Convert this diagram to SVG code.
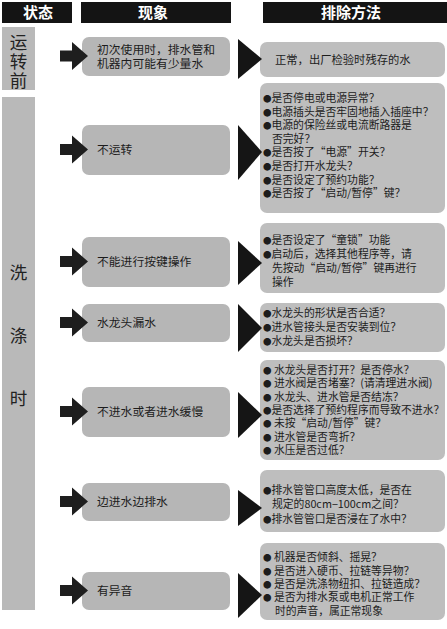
<svg xmlns="http://www.w3.org/2000/svg" width="447" height="629" viewBox="0 0 447 629">
<style>
.hdr{fill:#141414}
.hdrt{fill:#ffffff;font-family:"Noto Sans CJK SC","Noto Sans",sans-serif;font-size:15px;font-weight:bold;text-anchor:middle}
.st{fill:#b9b9b9}
.stt{fill:#222;font-family:"Noto Sans CJK SC",sans-serif;font-size:17.5px;text-anchor:middle}
.ph{fill:#b6b6b6}
.pht{fill:#1c1c1c;font-family:"Noto Sans CJK SC",sans-serif;font-size:11.8px}
.so{fill:#bebebe}
.sot{fill:#1c1c1c;font-family:"Noto Sans CJK SC",sans-serif;font-size:10.8px}
.b{font-size:8.5px}
.arr{fill:#1e1e1e}
.big{fill:#151515}
</style>
<rect width="447" height="629" fill="#ffffff"/>

<g id="headers">
<rect class="hdr" x="2" y="2" width="70" height="21"/>
<text class="hdrt" x="38" y="18">状态</text>
<rect class="hdr" x="81" y="2" width="150" height="21"/>
<text class="hdrt" x="153" y="18">现象</text>
<rect class="hdr" x="263" y="2" width="184" height="21"/>
<text class="hdrt" x="351" y="18">排除方法</text>
</g>

<g id="status-before">
<rect class="st" x="2" y="27" width="33" height="63"/>
<text class="stt" x="18.5" y="48.5">运</text>
<text class="stt" x="18.5" y="67.5">转</text>
<text class="stt" x="18.5" y="86.5">前</text>
</g>

<g id="status-washing">
<rect class="st" x="2" y="97" width="33" height="513"/>
<text class="stt" x="18.5" y="279">洗</text>
<text class="stt" x="18.5" y="342">涤</text>
<text class="stt" x="18.5" y="405">时</text>
</g>

<g id="p1">
<rect class="ph" x="82" y="37" width="148" height="39" rx="7"/>
<text class="pht" x="97" y="54">初次使用时，排水管和</text>
<text class="pht" x="97" y="68">机器内可能有少量水</text>
</g>
<g id="p2">
<rect class="ph" x="82" y="125" width="148" height="50" rx="7"/>
<text class="pht" x="97" y="154">不运转</text>
</g>
<g id="p3">
<rect class="ph" x="82" y="237" width="148" height="50" rx="7"/>
<text class="pht" x="97" y="266">不能进行按键操作</text>
</g>
<g id="p4">
<rect class="ph" x="82" y="304" width="148" height="38" rx="7"/>
<text class="pht" x="97" y="327">水龙头漏水</text>
</g>
<g id="p5">
<rect class="ph" x="82" y="387" width="148" height="50" rx="7"/>
<text class="pht" x="97" y="416">不进水或者进水缓慢</text>
</g>
<g id="p6">
<rect class="ph" x="82" y="483" width="148" height="38" rx="7"/>
<text class="pht" x="97" y="506">边进水边排水</text>
</g>
<g id="p7">
<rect class="ph" x="82" y="572" width="148" height="38" rx="7"/>
<text class="pht" x="97" y="595">有异音</text>
</g>

<g id="s1">
<rect class="so" x="260" y="42" width="185" height="35" rx="7"/>
<text class="sot" x="275" y="64" style="font-size:11.3px">正常，出厂检验时残存的水</text>
</g>
<g id="s2">
<rect class="so" x="260" y="83" width="185" height="130" rx="7"/>
<text class="sot" x="263" y="102"><tspan class="b">●</tspan>是否停电或电源异常？</text>
<text class="sot" x="263" y="115.6"><tspan class="b">●</tspan>电源插头是否牢固地插入插座中？</text>
<text class="sot" x="263" y="129.2"><tspan class="b">●</tspan>电源的保险丝或电流断路器是</text>
<text class="sot" x="272" y="142.8">否完好？</text>
<text class="sot" x="263" y="156.4"><tspan class="b">●</tspan>是否按了“电源”开关？</text>
<text class="sot" x="263" y="170"><tspan class="b">●</tspan>是否打开水龙头？</text>
<text class="sot" x="263" y="183.6"><tspan class="b">●</tspan>是否设定了预约功能？</text>
<text class="sot" x="263" y="197.2"><tspan class="b">●</tspan>是否按了“启动/暂停”键？</text>
</g>
<g id="s3">
<rect class="so" x="260" y="223" width="185" height="70" rx="7"/>
<text class="sot" x="263" y="243.5"><tspan class="b">●</tspan>是否设定了“童锁”功能</text>
<text class="sot" x="263" y="257.5"><tspan class="b">●</tspan>启动后，选择其他程序等，请</text>
<text class="sot" x="272" y="271.5">先按动“启动/暂停”键再进行</text>
<text class="sot" x="272" y="285.5">操作</text>
</g>
<g id="s4">
<rect class="so" x="260" y="303" width="185" height="49" rx="7"/>
<text class="sot" x="263" y="317"><tspan class="b">●</tspan>水龙头的形状是否合适？</text>
<text class="sot" x="263" y="331"><tspan class="b">●</tspan>进水管接头是否安装到位？</text>
<text class="sot" x="263" y="344.5"><tspan class="b">●</tspan>水龙头是否损坏？</text>
</g>
<g id="s5">
<rect class="so" x="260" y="360" width="185" height="100" rx="7"/>
<text class="sot" x="263" y="374"><tspan class="b">●</tspan> 水龙头是否打开？是否停水？</text>
<text class="sot" x="263" y="387.3"><tspan class="b">●</tspan> 进水阀是否堵塞？(请清理进水阀)</text>
<text class="sot" x="263" y="400.6"><tspan class="b">●</tspan> 水龙头、进水管是否结冻？</text>
<text class="sot" x="263" y="414"><tspan class="b">●</tspan>是否选择了预约程序而导致不进水？</text>
<text class="sot" x="263" y="427.3"><tspan class="b">●</tspan> 未按“启动/暂停”键？</text>
<text class="sot" x="263" y="440.6"><tspan class="b">●</tspan> 进水管是否弯折？</text>
<text class="sot" x="263" y="454"><tspan class="b">●</tspan> 水压是否过低？</text>
</g>
<g id="s6">
<rect class="so" x="260" y="470" width="185" height="62" rx="7"/>
<text class="sot" x="263" y="494"><tspan class="b">●</tspan>排水管管口高度太低，是否在</text>
<text class="sot" x="272" y="508">规定的80cm−100cm之间？</text>
<text class="sot" x="263" y="523"><tspan class="b">●</tspan>排水管管口是否浸在了水中？</text>
</g>
<g id="s7">
<rect class="so" x="260" y="543" width="185" height="77" rx="7"/>
<text class="sot" x="263" y="561"><tspan class="b">●</tspan> 机器是否倾斜、摇晃？</text>
<text class="sot" x="263" y="575"><tspan class="b">●</tspan> 是否进入硬币、拉链等异物？</text>
<text class="sot" x="263" y="588"><tspan class="b">●</tspan> 是否是洗涤物纽扣、拉链造成？</text>
<text class="sot" x="263" y="601"><tspan class="b">●</tspan> 是否为排水泵或电机正常工作</text>
<text class="sot" x="275" y="615">时的声音，属正常现象</text>
</g>

<g id="connectors">
<path class="arr" d="M60,50.5h12v-8.5l16,14l-16,14v-8.5h-12z"/>
<path class="arr" d="M60,144h12v-8.5l16,14l-16,14v-8.5h-12z"/>
<path class="arr" d="M60,256h12v-8.5l16,14l-16,14v-8.5h-12z"/>
<path class="arr" d="M60,317h12v-8.5l16,14l-16,14v-8.5h-12z"/>
<path class="arr" d="M60,406h12v-8.5l16,14l-16,14v-8.5h-12z"/>
<path class="arr" d="M60,496h12v-8.5l16,14l-16,14v-8.5h-12z"/>
<path class="arr" d="M60,585h12v-8.5l16,14l-16,14v-8.5h-12z"/>
<path class="big" d="M238,39L262,59L238,79z"/>
<path class="big" d="M238,125L262,152L238,180z"/>
<path class="big" d="M238,241L262,263L238,285z"/>
<path class="big" d="M238,304L262,328L238,352z"/>
<path class="big" d="M238,392L262,415L238,438z"/>
<path class="big" d="M238,490L262,508L238,526z"/>
<path class="big" d="M238,573L262,595L238,618z"/>
</g>
</svg>
